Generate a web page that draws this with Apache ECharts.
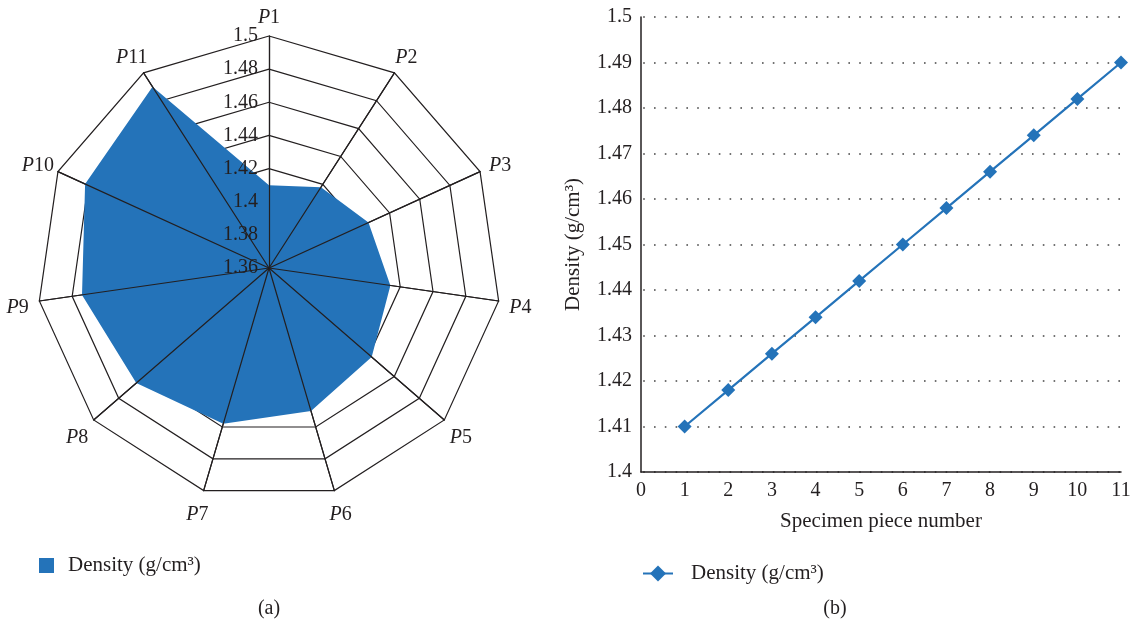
<!DOCTYPE html>
<html><head><meta charset="utf-8">
<script src="https://cdn.jsdelivr.net/npm/echarts@6/dist/echarts.min.js"></script>
<style>html,body{margin:0;padding:0;background:#fff}#c{width:1135px;height:626px}</style>
</head><body><div id="c"></div>
<script>
const categories = ['P1','P2','P3','P4','P5','P6','P7','P8','P9','P10','P11'];
const specimenNumbers = [1,2,3,4,5,6,7,8,9,10,11];
const densityValues = [1.41,1.418,1.426,1.434,1.442,1.45,1.458,1.466,1.474,1.482,1.49];
const radarMin = 1.36, radarMax = 1.5, radarSplits = 7;
const yMin = 1.4, yMax = 1.5, yStep = 0.01;
const xMin = 0, xMax = 11, xStep = 1;
const seriesLabel = 'Density (g/cm³)';

const FONT = '"Liberation Serif","DejaVu Serif",serif';
const INK = '#231f20';
const BLUE = '#2473b9';

// ECharts radar runs counter-clockwise; reorder so P2 sits on the right like the source
const order = [0].concat(categories.map((_, i) => i).slice(1).reverse());
const radarValues = order.map(i => densityValues[i]);

const chart = echarts.init(document.getElementById('c'));
chart.setOption({
  animation: false,
  textStyle: { fontFamily: FONT, color: INK },
  radar: [{
    center: [269, 268], radius: 232, startAngle: 90, shape: 'polygon',
    splitNumber: radarSplits, z: 0,
    indicator: order.map(i => ({ name: categories[i], min: radarMin, max: radarMax })),
    axisName: {
      color: INK, fontFamily: FONT, fontSize: 20, align: 'center', verticalAlign: 'middle',
      padding: [7, 0, 0, 0],
      formatter: n => '{i|P}' + n.slice(1),
      rich: { i: { fontStyle: 'italic', fontFamily: FONT, fontSize: 20, color: INK } }
    },
    nameGap: 22,
    axisLine: { show: true, lineStyle: { color: INK, width: 1.2 } },
    splitLine: { show: true, lineStyle: { color: INK, width: 1.2 } },
    splitArea: { show: false },
    axisTick: { show: false },
    axisLabel: { show: false }
  }, {
    center: [269, 268], radius: 232, startAngle: 90, shape: 'polygon',
    splitNumber: radarSplits, z: 5,
    indicator: order.map((i, k) => {
      const ind = { name: categories[i], min: radarMin, max: radarMax };
      if (k === 0) ind.axisLabel = { show: true };
      return ind;
    }),
    axisName: { show: false },
    axisLine: { show: true, lineStyle: { color: INK, width: 1.2 } },
    splitLine: { show: false }, splitArea: { show: false },
    axisTick: { show: false },
    axisLabel: { show: false, color: INK, fontFamily: FONT, fontSize: 20, margin: 11,
      padding: [3, 0, 0, 0],
      formatter: v => String(+(+v).toFixed(2)) }
  }],
  grid: { left: 641, top: 17, width: 480, height: 455 },
  xAxis: {
    type: 'value', min: xMin, max: xMax, interval: xStep,
    name: 'Specimen piece number', nameLocation: 'middle', nameGap: 39,
    nameTextStyle: { fontFamily: FONT, fontSize: 21, color: INK },
    axisLine: { lineStyle: { color: INK, width: 1.5 } },
    axisTick: { show: false },
    axisLabel: { color: INK, fontFamily: FONT, fontSize: 20, margin: 9 },
    splitLine: { show: false }
  },
  yAxis: {
    type: 'value', min: yMin, max: yMax, interval: yStep,
    name: seriesLabel, nameLocation: 'middle', nameGap: 57, nameRotate: 90,
    nameTextStyle: { fontFamily: FONT, fontSize: 21, color: INK },
    axisLine: { show: true, lineStyle: { color: INK, width: 1.5 } },
    axisTick: { show: false },
    axisLabel: { color: INK, fontFamily: FONT, fontSize: 20, margin: 9,
      formatter: v => String(+v.toFixed(2)) },
    splitLine: { show: true, lineStyle: { color: '#444', width: 1.6, type: [1.6, 9.2], dashOffset: -13 } }
  },
  legend: [{
    data: ['radarDensity'], left: 39, top: 555, padding: 0, icon: 'rect', itemWidth: 15, itemHeight: 15,
    formatter: () => seriesLabel,
    textStyle: { fontFamily: FONT, fontSize: 21, color: INK, padding: [0, 0, 0, 9] }
  }, {
    data: ['lineDensity'], left: 642, top: 563, padding: 0, itemWidth: 30, itemHeight: 20,
    formatter: () => seriesLabel,
    textStyle: { fontFamily: FONT, fontSize: 21, color: INK, padding: [0, 0, 0, 13] }
  }],
  graphic: [
    { type: 'text', x: 269, y: 609, style: { text: '(a)', align: 'center', verticalAlign: 'middle', font: '20px ' + FONT, fill: INK } },
    { type: 'text', x: 835, y: 609, style: { text: '(b)', align: 'center', verticalAlign: 'middle', font: '20px ' + FONT, fill: INK } }
  ],
  series: [{
    type: 'radar', radarIndex: 0, z: 2,
    symbol: 'none',
    data: [{ name: 'radarDensity', value: radarValues }],
    itemStyle: { color: BLUE },
    lineStyle: { width: 0, color: BLUE },
    areaStyle: { color: BLUE, opacity: 1 }
  }, {
    type: 'line', name: 'lineDensity',
    data: specimenNumbers.map((x, i) => [x, densityValues[i]]),
    symbol: 'diamond', symbolSize: 14,
    itemStyle: { color: BLUE },
    lineStyle: { color: BLUE, width: 2.2 }
  }]
});
</script></body></html>
